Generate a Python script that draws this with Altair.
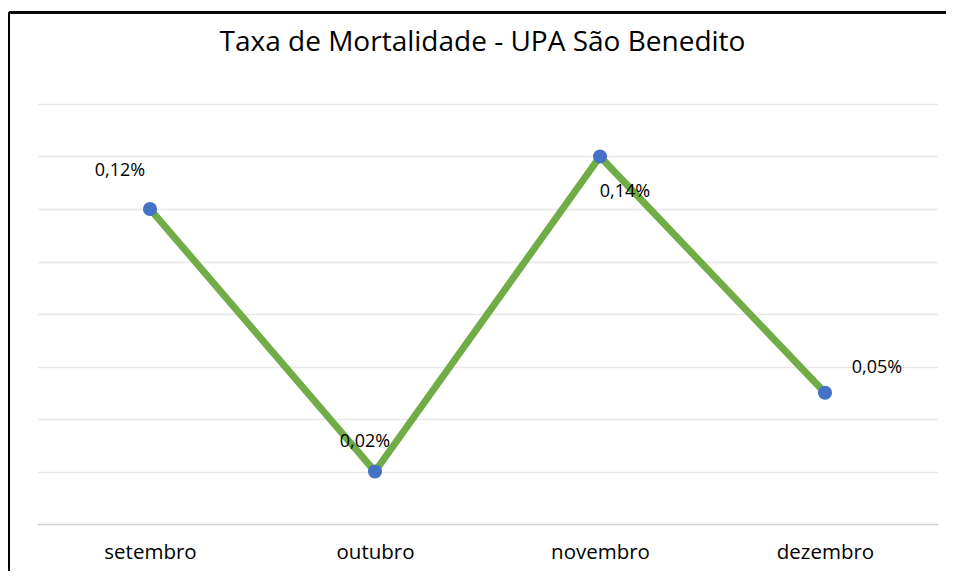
import altair as alt
import pandas as pd

months = ["setembro", "outubro", "novembro", "dezembro"]
rates = [0.12, 0.02, 0.14, 0.05]  # percent
grid_values = [0.02, 0.04, 0.06, 0.08, 0.10, 0.12, 0.14, 0.16]
title_text = ["Taxa de Mortalidade - UPA São Benedito"]

# label offsets (px) per month, as in the reference
label_offsets = {"setembro": (-30, -38), "outubro": (-10, -30),
                 "novembro": (25, 35), "dezembro": (52, -25)}

df = pd.DataFrame({"month": months, "rate": rates})

FONT = "Open Sans"
W, H = 900, 420

x = alt.X("month:N", sort=months, title=None,
          scale=alt.Scale(type="point", padding=0.5),
          axis=alt.Axis(ticks=False, grid=False, domain=True, domainColor="#D0D0D0",
                        domainWidth=1.3, labelFont=FONT, labelFontSize=20.5,
                        labelColor="#000000", labelPadding=18, labelAngle=0))
y = alt.Y("rate:Q", title=None,
          scale=alt.Scale(domain=[0, 0.16], nice=False, zero=True),
          axis=alt.Axis(values=grid_values, labels=False, ticks=False, domain=False,
                        grid=True, gridColor="#E8E8E8", gridWidth=1.3))

base = alt.Chart(df)

line = base.mark_line(color="#70AD47", strokeWidth=7, strokeCap="round",
                      strokeJoin="round").encode(x=x, y=y)
pts = base.mark_circle(color="#4472C4", size=200, opacity=1).encode(x=x, y=y)

labels = []
for m, (dx, dy) in label_offsets.items():
    labels.append(
        base.transform_filter(alt.datum.month == m)
        .transform_calculate(lab="replace(format(datum.rate, '.2f'), '.', ',') + '%'")
        .mark_text(font=FONT, fontSize=18, color="#000000", dx=dx, dy=dy)
        .encode(x=x, y=y, text="lab:N")
    )

title = alt.Chart(pd.DataFrame({"t": title_text})).mark_text(
    font=FONT, fontSize=28, color="#000000", align="center", baseline="middle"
).encode(x=alt.value(445), y=alt.value(-61), text="t:N")

border_left = alt.Chart(df).mark_rule(color="#000000", strokeWidth=2).encode(
    x=alt.value(-28.5), y=alt.value(-91.5), y2=alt.value(470))
border_top = alt.Chart(df).mark_rule(color="#000000", strokeWidth=2).encode(
    x=alt.value(-28.5), x2=alt.value(930), y=alt.value(-91.5))

chart = alt.layer(line, pts, *labels, title, border_left, border_top).properties(
    width=W, height=H,
    autosize=alt.AutoSizeParams(type="none"),
    padding={"left": 29.5, "top": 96, "right": 8.5, "bottom": 47},
).configure(background="#FFFFFF").configure_view(strokeWidth=0, stroke="transparent")

chart.save("out.html", embed_options={"renderer": "svg", "actions": False})
